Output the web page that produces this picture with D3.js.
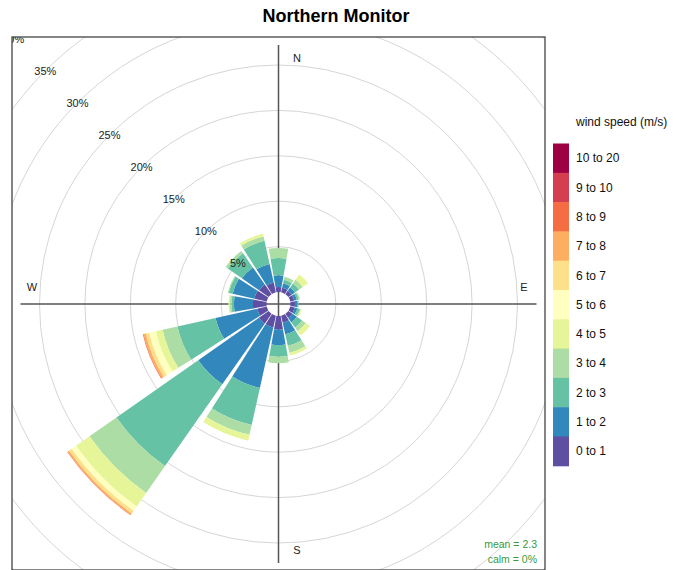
<!DOCTYPE html>
<html><head><meta charset="utf-8">
<script src="https://cdn.jsdelivr.net/npm/d3@7"></script>
<style>body{margin:0;background:#fff;} svg{display:block;font-family:"Liberation Sans",Arial,sans-serif;}</style>
</head><body>
<script>
// ---- data ----
const directions = ["N","NNE","NE","ENE","E","ESE","SE","SSE","S","SSW","SW","WSW","W","WNW","NW","NNW"];
const dirAngles = [0,22.5,45,67.5,90,112.5,135,157.5,180,202.5,225,247.5,270,292.5,315,337.5];
const speedBands = ["0 to 1","1 to 2","2 to 3","3 to 4","4 to 5","5 to 6","6 to 7","7 to 8","8 to 9","9 to 10","10 to 20"];
const bandColors = ["#5E4FA2","#3288BD","#66C2A5","#ABDDA4","#E6F598","#FFFFBF","#FEE08B","#FDAE61","#F46D43","#D53E4F","#9E0142"];
// percentage frequency per direction (order as directions)
const ws0to1  = [0.55,0.5,0.45,0.45,0.5,0.5,0.55,0.8,1.5,1.32,1.32,1.07,1.5,1.4,1.3,1.1];
const ws1to2  = [1.3,0.5,0.45,0.3,0.25,0.3,0.6,1.3,1.7,6.83,8.15,4.71,2.1,2.45,2.3,2.1];
const ws2to3  = [1.9,0.4,0.55,0.2,0.15,0.25,0.7,1.3,1.3,4.18,11.0,4.3,0.25,0.45,1.9,2.6];
const ws3to4  = [1.1,0.35,0.5,0.15,0,0.15,0.5,0.8,0.7,1.11,3.62,1.68,0.2,0.1,0.3,0.5];
const ws4to5  = [0,0,0.7,0,0,0.1,0.55,0.3,0,0.66,1.8,0.76,0.15,0,0,0.3];
const ws5to6  = [0,0,0,0,0,0,0,0,0,0,0.6,0.75,0,0,0,0];
const ws6to7  = [0,0,0,0,0,0,0,0,0,0,0.35,0.39,0,0,0,0];
const ws7to8  = [0,0,0,0,0,0,0,0,0,0,0.2,0.25,0,0,0,0];
const ws8to9  = [0,0,0,0,0,0,0,0,0,0,0.05,0.08,0,0,0,0];
const ws9to10 = [0,0,0,0,0,0,0,0,0,0,0,0,0,0,0,0];
const ws10to20= [0,0,0,0,0,0,0,0,0,0,0,0,0,0,0,0];
const gridTicks = [5,10,15,20,25,30,35,40];
const compassLabels = ["N","E","S","W"];
const titleText = "Northern Monitor";
const legendTitle = "wind speed (m/s)";
const statLines = ["mean = 2.3","calm = 0%"];

const series = [ws0to1,ws1to2,ws2to3,ws3to4,ws4to5,ws5to6,ws6to7,ws7to8,ws8to9,ws9to10,ws10to20];
const table = directions.map((d,i)=>{const o={dir:d,angle:dirAngles[i]}; speedBands.forEach((b,j)=>o[b]=series[j][i]); return o;});

// ---- layout ----
const W=678,H=570;
const panel={x:12,y:37,w:533,h:533};
const cx=278.5, cy=304;
const hole=12, pxPerPct=9.08;
const r = d3.scaleLinear().domain([0,40]).range([hole, hole+40*pxPerPct]);
const halfWidth = 10; // degrees
const color = d3.scaleOrdinal().domain(speedBands).range(bandColors);

const svg=d3.select("body").append("svg").attr("width",W).attr("height",H);
svg.append("defs").append("clipPath").attr("id","pc").append("rect")
  .attr("x",panel.x).attr("y",panel.y).attr("width",panel.w).attr("height",panel.h);

svg.append("text").attr("x",336).attr("y",22).attr("text-anchor","middle")
  .attr("font-size",18).attr("font-weight","bold").attr("fill","#000").text(titleText);

const g=svg.append("g").attr("clip-path","url(#pc)");
const c=g.append("g").attr("transform",`translate(${cx},${cy})`);

// grid circles
c.selectAll("circle.grid").data(gridTicks).join("circle").attr("class","grid")
  .attr("r",d=>r(d)).attr("fill","none").attr("stroke","#d6d6d6").attr("stroke-width",1);

// axis lines
c.append("line").attr("x1",0).attr("x2",0).attr("y1",-259).attr("y2",259).attr("stroke","#555").attr("stroke-width",1.5);
c.append("line").attr("x1",-258).attr("x2",258).attr("y1",0).attr("y2",0).attr("stroke","#555").attr("stroke-width",1.5);

// stacked wedges
const stack=d3.stack().keys(speedBands)(table);
const arc=d3.arc();
stack.forEach(layer=>{
  c.append("g").selectAll("path").data(layer.filter(d=>d[1]-d[0]>0)).join("path")
    .attr("d",d=>arc({innerRadius:r(d[0]),outerRadius:r(d[1]),
        startAngle:(d.data.angle-halfWidth)*Math.PI/180,endAngle:(d.data.angle+halfWidth)*Math.PI/180}))
    .attr("fill",color(layer.key)).attr("stroke","none");
});

// percent labels along NW
const a315=315*Math.PI/180;
c.selectAll("text.pct").data(gridTicks).join("text").attr("class","pct")
  .attr("x",d=>r(d)*Math.sin(a315)).attr("y",d=>-r(d)*Math.cos(a315))
  .attr("text-anchor","middle").attr("dy","0.35em").attr("font-size",11).attr("fill","#222")
  .text(d=>d+"%");

// compass labels
const compassPos={N:[297,62],E:[524,291],S:[297,554],W:[32,291]};
g.selectAll("text.cmp").data(compassLabels).join("text").attr("class","cmp")
  .attr("x",d=>compassPos[d][0]).attr("y",d=>compassPos[d][1]).attr("text-anchor","middle")
  .attr("font-size",11).attr("fill","#222").text(d=>d);

// stats
g.selectAll("text.stat").data(statLines).join("text").attr("class","stat")
  .attr("x",537).attr("y",(d,i)=>548+i*15).attr("text-anchor","end")
  .attr("font-size",10.5).attr("fill","#3a9a3a").text(d=>d);

// panel border
svg.append("rect").attr("x",panel.x).attr("y",panel.y).attr("width",panel.w).attr("height",panel.h)
  .attr("fill","none").attr("stroke","#444").attr("stroke-width",1.3);

// legend
const lg=svg.append("g");
lg.append("text").attr("x",576).attr("y",126).attr("font-size",12).attr("fill","#111").text(legendTitle);
const keyTop=143.5, keyH=29.3;
const rev=speedBands.slice().reverse();
const ky=d3.scaleBand().domain(rev).range([keyTop,keyTop+keyH*11]).padding(0);
lg.selectAll("rect.key").data(rev).join("rect").attr("class","key")
  .attr("x",553).attr("y",d=>ky(d)).attr("width",16).attr("height",ky.bandwidth()+0.5)
  .attr("fill",d=>color(d));
lg.selectAll("text.key").data(rev).join("text").attr("class","key")
  .attr("x",576).attr("y",d=>ky(d)+ky.bandwidth()/2).attr("dy","0.35em")
  .attr("font-size",12).attr("fill","#111").text(d=>d);
</script>
</body></html>
